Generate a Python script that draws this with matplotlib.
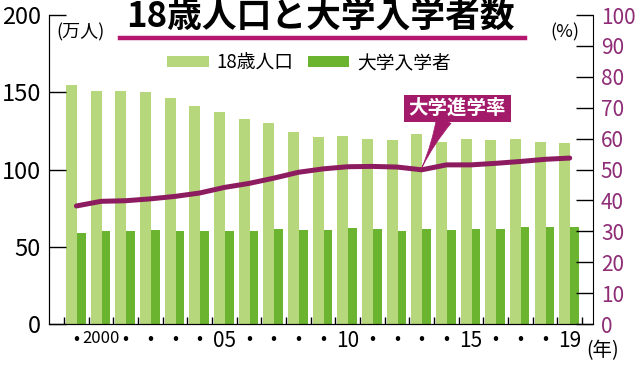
import numpy as np
import matplotlib
matplotlib.use("Agg")
import matplotlib.pyplot as plt
from matplotlib.lines import Line2D

plt.rcParams['font.family'] = ['Noto Sans CJK JP', 'DejaVu Sans']

years = np.arange(1999, 2020)
pop18 = [155, 151, 151, 150, 146, 141, 137, 133, 130, 124, 121,
         122, 120, 119, 123, 118, 120, 119, 120, 118, 117]
entrants = [59.0, 59.9, 60.3, 60.9, 60.4, 59.9, 60.4, 60.3, 61.4, 60.7, 60.9,
            61.9, 61.3, 60.5, 61.4, 60.9, 61.8, 61.8, 62.9, 62.8, 63.1]
rate = [38.2, 39.7, 39.9, 40.5, 41.3, 42.4, 44.2, 45.5, 47.2, 49.1, 50.2,
        50.9, 51.0, 50.8, 49.9, 51.5, 51.5, 52.0, 52.6, 53.3, 53.7]
xlabels = ['•', '2000', '•', '•', '•', '•', '05', '•', '•', '•', '•', '10',
           '•', '•', '•', '•', '15', '•', '•', '•', '19']

light = '#b7d77c'
dark = '#6ab42f'
magenta = '#8c1c5f'
purple = '#8e2c76'
boxcol = '#a31a6b'

fig = plt.figure(figsize=(6.4, 3.65), dpi=100)
ax = fig.add_axes([0.077, 0.1123, 0.849, 0.8466])

ax.bar(years - 0.2, pop18, width=0.44, color=light, label='18歳人口')
ax.bar(years + 0.2, entrants, width=0.34, color=dark, label='大学入学者')

ax.set_xlim(1997.9, 2019.93)
ax.set_ylim(0, 200)
ax.set_yticks([0, 50, 100, 150, 200])
ax.tick_params(axis='y', direction='in', length=12, width=1, labelsize=17, pad=6)
ax.set_xticks(years)
ax.set_xticklabels(xlabels)
ax.tick_params(axis='x', which='major', length=0, labelsize=15, pad=4)
ax.set_xticks(np.arange(1998.5, 2020, 1), minor=True)
ax.tick_params(axis='x', which='minor', direction='in', length=5, width=1)
for lab in ax.get_xticklabels():
    if lab.get_text() == '•':
        lab.set_fontsize(13)
    elif lab.get_text() == '2000':
        lab.set_fontsize(12)
ax.spines['top'].set_visible(False)
ax.spines['right'].set_visible(False)

ax2 = ax.twinx()
ax2.plot(years, rate, color=magenta, lw=3.6, solid_capstyle='round')
ax2.set_ylim(0, 100)
ax2.set_yticks(np.arange(0, 101, 10))
ax2.tick_params(axis='y', direction='in', length=12, width=1, labelsize=15,
                pad=6, labelcolor=purple)
ax2.spines['top'].set_visible(False)

# callout pointer + box
ax2.annotate('', xy=(2013, 50.5), xytext=(2013.9, 66),
             arrowprops=dict(arrowstyle='wedge,tail_width=0.8,shrink_factor=0.3',
                             fc=boxcol, ec=boxcol, lw=0.5, shrinkA=0, shrinkB=0,
                             mutation_scale=14))
ax2.text(2014.45, 69.7, '大学進学率', ha='center', va='center', fontsize=14,
         fontweight='bold', color='white',
         bbox=dict(boxstyle='square,pad=0.22', fc=boxcol, ec='none'))

ax.legend(loc='center', bbox_to_anchor=(0.478, 0.845), ncol=2, frameon=False,
          fontsize=13.5, handlelength=2.2, handleheight=0.55, columnspacing=0.8,
          handletextpad=0.4)

fig.text(0.5, 0.952, '18歳人口と大学入学者数', ha='center', va='center',
         fontsize=25, fontweight='bold')
fig.add_artist(Line2D([0.1875, 0.82], [0.897, 0.897], color='#b5176f', lw=3.2))
fig.text(0.125, 0.912, '(万人)', ha='center', va='center', fontsize=13)
fig.text(0.883, 0.912, '(%)', ha='center', va='center', fontsize=13)
fig.text(0.941, 0.04, '(年)', ha='center', va='center', fontsize=14)

fig.savefig('out.png', dpi=100)
